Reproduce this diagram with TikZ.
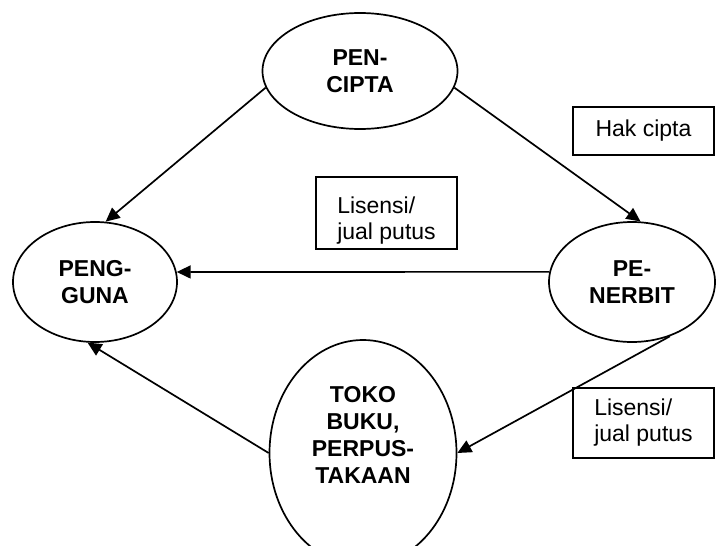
\documentclass[tikz,border=0pt]{standalone}
\usepackage{fontspec}
\setmainfont{Liberation Sans}
\usetikzlibrary{shapes.geometric,arrows.meta}

\begin{document}
\begin{tikzpicture}[x=1pt,y=-1pt,line width=1.7pt,
            party/.style={ellipse,draw,inner sep=0pt,align=center,
                font=\bfseries\fontsize{23}{27}\selectfont},
            note/.style={draw,inner sep=0pt,align=left,minimum width=141pt,
                font=\fontsize{23}{26}\selectfont},
            flow/.style={-{Triangle[length=14pt,width=13pt]}}
        ]
            \useasboundingbox (0,0) rectangle (728,546);
            \clip (0,0) rectangle (728,546);

            \node[party,minimum width=195pt,minimum height=116pt] (cipta) at (360,71) {PEN-\\CIPTA};
            \node[party,minimum width=164pt,minimum height=120pt] (guna) at (95,282) {PENG-\\GUNA};
            \node[party,minimum width=166pt,minimum height=120pt] (terbit) at (632,282) {PE-\\NERBIT};
            \node[party,minimum width=187pt,minimum height=226pt] (toko) at (363,453) {};
            \node[align=center,font=\bfseries\fontsize{23}{27}\selectfont] (tokotext) at ([yshift=18pt]toko.center)
                {TOKO\\BUKU,\\PERPUS-\\TAKAAN};

            \node[note,minimum height=48pt] (hak) at (643.5,131) {Hak cipta};
            \node[note,minimum height=72pt,text height=58pt] (lis1) at (386.5,213) {Lisensi/\\jual putus};
            \node[note,minimum height=70pt] (lis2) at (643.5,423) {Lisensi/\\jual putus};

            \draw[flow] (cipta.190) -- (guna.80);
            \draw[flow] (cipta.350) -- (terbit.82);
            \draw[flow] (terbit.173) -- (guna.7);
            \draw[flow] (toko.180) -- (guna.263);
            \draw[flow] (terbit.305) -- (toko.0);
        \end{tikzpicture}
\end{document}
